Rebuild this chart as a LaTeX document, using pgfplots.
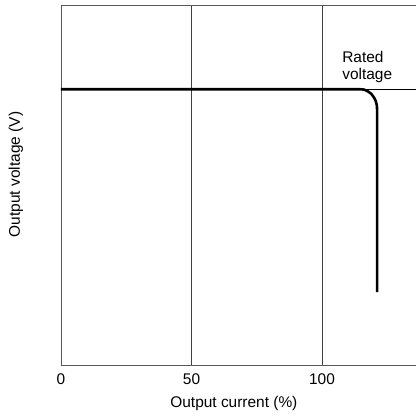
\documentclass[border=0pt]{standalone}
\usepackage{pgfplots}
\pgfplotsset{compat=1.18}
\usepackage{fontspec}
\setmainfont{Liberation Sans}
\usetikzlibrary{calc}

\begin{document}
\fontsize{15.5}{18}\selectfont
\begin{tikzpicture}
  \begin{axis}[
    name=ax,
    scale only axis,
    width=355bp, height=359.5bp,
    xmin=0, xmax=136,
    ymin=0, ymax=100,
    axis x line=box,
    axis y line=left,
    axis line style={-, draw=black!65, line width=0.8bp},
    xtick={0,50,100},
    ytick=\empty,
    major tick length=0pt,
    xmajorgrids,
    grid style={draw=black!75, line width=0.8bp},
    /pgf/number format/assume math mode=true,
    xticklabel style={font=\fontsize{15.5}{18}\selectfont, yshift=-3bp},
    xlabel={Output current (\%)},
    ylabel={Output voltage (V)},
    xlabel style={at={(axis description cs:0.487,-0.106)}, anchor=center},
    ylabel style={at={(axis description cs:-0.127,0.53)}, anchor=center, rotate=0},
    clip=false,
  ]
    % rated voltage reference line
    \addplot[black, line width=0.8bp] coordinates {(0,76.7) (136,76.7)};
    % output characteristic
    \addplot[black, line width=2.6bp, line join=round] coordinates {
      (0,76.7) (114.6,76.7) (116.2,76.6) (117.6,76.1) (118.9,75.4)
      (119.9,74.4) (120.6,73.4) (121.0,72.2) (121.1,71.0) (121.1,20.3)
    };
    \node[anchor=south west, align=left, inner sep=0pt,
          font=\fontsize{15.5}{17}\selectfont]
      at (axis cs:107.7,78.5) {Rated\\voltage};
  \end{axis}
  \pgfresetboundingbox
  \path ($(ax.south west)+(-61bp,-55bp)$) rectangle ($(ax.north east)+(0,5.5bp)$);
\end{tikzpicture}
\end{document}
